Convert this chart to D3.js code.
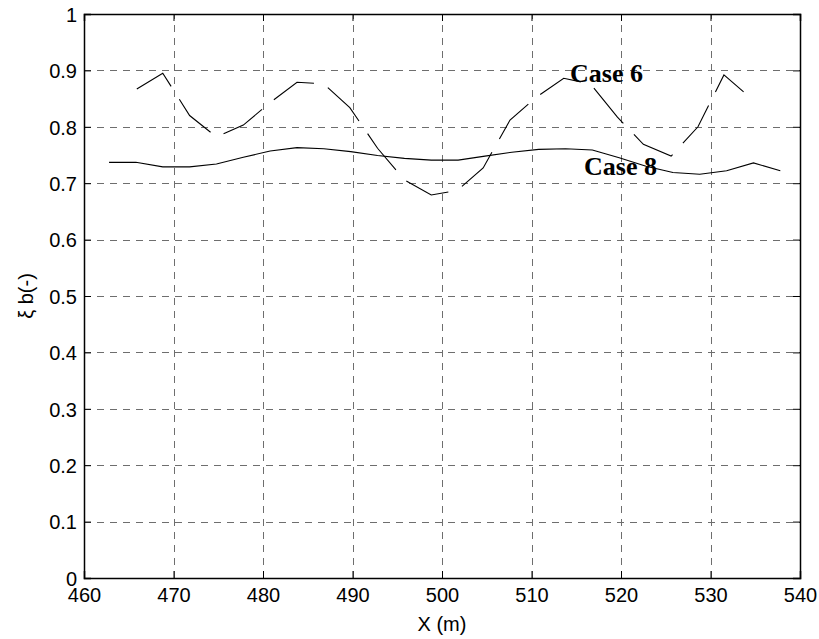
<!DOCTYPE html>
<html>
<head>
<meta charset="utf-8">
<script src="https://cdn.jsdelivr.net/npm/d3@7"></script>
<style>
  html, body { margin: 0; padding: 0; background: #fff; }
  svg { display: block; }
</style>
</head>
<body>
<svg id="chart" width="819" height="639"></svg>
<script>
// ---- data ----
const case6X = [465.9, 468.8, 471.8, 474.8, 477.8, 480.8, 483.8, 486.8, 489.7, 492.8, 495.8, 498.8,
                501.7, 504.6, 507.6, 510.5, 513.6, 516.6, 519.6, 522.5, 525.6, 528.6, 531.5, 533.7];
const case6Y = [0.867, 0.895, 0.820, 0.782, 0.803, 0.843, 0.879, 0.876, 0.834, 0.762, 0.706, 0.679,
                0.687, 0.727, 0.812, 0.852, 0.886, 0.876, 0.817, 0.769, 0.748, 0.800, 0.892, 0.862];
const case8X = [462.8, 465.8, 468.8, 471.8, 474.8, 477.8, 480.8, 483.8, 486.8, 489.8, 492.8, 495.8, 498.8,
                501.8, 504.8, 507.8, 510.8, 513.8, 516.8, 519.8, 522.8, 525.8, 528.8, 531.8, 534.8, 537.8];
const case8Y = [0.737, 0.737, 0.729, 0.729, 0.734, 0.746, 0.757, 0.763, 0.761, 0.756, 0.749, 0.744, 0.741,
                0.741, 0.748, 0.755, 0.760, 0.761, 0.759, 0.745, 0.730, 0.719, 0.716, 0.722, 0.736, 0.722];
const xTicks = [460, 470, 480, 490, 500, 510, 520, 530, 540];
const yTicks = [0, 0.1, 0.2, 0.3, 0.4, 0.5, 0.6, 0.7, 0.8, 0.9, 1];
const seriesLabels = ["Case 6", "Case 8"];
const xTitle = "X (m)";
const yTitle = "ξ b(-)";

// ---- layout ----
const L = 84, R = 800, T = 14, B = 578;
const svg = d3.select("#chart");
const x = d3.scaleLinear().domain([460, 540]).range([L, R]);
const y = d3.scaleLinear().domain([0, 1]).range([B, T]);

const sans = "Arial, 'Liberation Sans', Helvetica, sans-serif";
const serif = "'Times New Roman', 'Liberation Serif', Times, serif";

// grid
const grid = svg.append("g").attr("stroke", "#6e6e6e").attr("stroke-width", 1)
  .attr("stroke-dasharray", "7.3,5.7").attr("shape-rendering", "crispEdges");
grid.selectAll("line.v").data(xTicks.slice(1, -1)).enter().append("line")
  .attr("x1", d => Math.round(x(d)) + 0.5).attr("x2", d => Math.round(x(d)) + 0.5)
  .attr("y1", B).attr("y2", T);
grid.selectAll("line.h").data(yTicks.slice(1, -1)).enter().append("line")
  .attr("x1", L).attr("x2", R)
  .attr("y1", d => Math.round(y(d)) + 0.5).attr("y2", d => Math.round(y(d)) + 0.5);

// axes with inward ticks
const tickLen = 7;
const axB = svg.append("g").attr("transform", `translate(0,${B})`)
  .call(d3.axisBottom(x).tickValues(xTicks).tickSize(-tickLen).tickPadding(10).tickFormat(d3.format("d")));
const axT = svg.append("g").attr("transform", `translate(0,${T})`)
  .call(d3.axisTop(x).tickValues(xTicks).tickSize(-tickLen).tickFormat(""));
const axL = svg.append("g").attr("transform", `translate(${L},0)`)
  .call(d3.axisLeft(y).tickValues(yTicks).tickSize(-tickLen).tickPadding(7)
    .tickFormat(d => d === 0 ? "0" : d === 1 ? "1" : d3.format(".1f")(d)));
const axR = svg.append("g").attr("transform", `translate(${R},0)`)
  .call(d3.axisRight(y).tickValues(yTicks).tickSize(-tickLen).tickFormat(""));
[axB, axT, axL, axR].forEach(a => {
  a.select(".domain").attr("stroke", "#000").attr("stroke-width", 1.5);
  a.selectAll(".tick line").attr("stroke", "#000").attr("stroke-width", 1);
  a.selectAll("text").attr("font-family", sans).attr("font-size", 20).attr("fill", "#000");
});
axB.selectAll("text").attr("dy", "0.71em");
axL.selectAll("text").attr("dy", "0.36em");

// series
const line = d3.line().x(d => x(d[0])).y(d => y(d[1]));
const c8 = case8X.map((v, i) => [v, case8Y[i]]);
const c6 = case6X.map((v, i) => [v, case6Y[i]]);
svg.append("path").datum(c8).attr("d", line)
  .attr("fill", "none").attr("stroke", "#000").attr("stroke-width", 1.1);
svg.append("path").datum(c6).attr("d", line)
  .attr("fill", "none").attr("stroke", "#000").attr("stroke-width", 1.1)
  .attr("stroke-dasharray", "46,15.3");

// series labels
svg.append("text").attr("x", 570).attr("y", 82).text(seriesLabels[0])
  .attr("font-family", serif).attr("font-weight", "bold").attr("font-size", 26);
svg.append("text").attr("x", 584).attr("y", 175).text(seriesLabels[1])
  .attr("font-family", serif).attr("font-weight", "bold").attr("font-size", 26);

// axis titles
svg.append("text").attr("x", (L + R) / 2).attr("y", 631).attr("text-anchor", "middle")
  .attr("font-family", sans).attr("font-size", 20).text(xTitle);
svg.append("text").attr("transform", `translate(33,${(T + B) / 2}) rotate(-90)`)
  .attr("text-anchor", "middle").attr("font-family", sans).attr("font-size", 20).text(yTitle);
</script>
</body>
</html>
